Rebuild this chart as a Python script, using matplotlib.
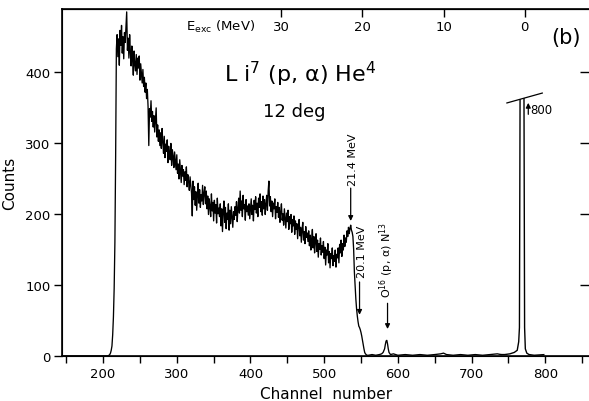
import numpy as np
import matplotlib
matplotlib.use("Agg")
import matplotlib.pyplot as plt
from matplotlib.patches import Polygon

# spectre Li7(p,alpha)He4 a 12 deg -- comptages par canal
ch_zero = [144, 170, 190, 200, 204, 206, 208, 209, 210, 211, 212, 213, 214, 215, 216, 217]
cnt_zero = [0, 0, 0, 0, 0, 0, 1, 2, 4, 8, 14, 30, 55, 95, 160, 280]

# partie continue, canal par canal (218 -> 537)
cnt_cont = [
    432, 452, 421, 446, 409, 458, 437, 465, 426, 449, 418, 455, 441, 462, 484, 430, 447, 419, 452, 428,
    408, 436, 417, 395, 429, 410, 401, 424, 396, 419, 405, 422, 388, 411, 397, 384, 403, 379, 392, 371,
    384, 362, 375, 351, 296, 348, 336, 359, 330, 344, 322, 338, 315, 331, 349, 308, 325, 302, 318, 296,
    314, 292, 320, 301, 285, 309, 279, 298, 288, 304, 272, 295, 283, 276, 299, 268, 290, 281, 265, 287,
    274, 262, 283, 257, 270, 249, 276, 260, 244, 268, 253, 262, 241, 259, 247, 266, 238, 255, 245, 233,
    252, 240, 229, 197, 246, 220, 238, 212, 231, 205, 226, 243, 215, 234, 209, 227, 218, 240, 213, 229,
    238, 214, 232, 207, 225, 199, 221, 210, 196, 228, 204, 216, 190, 219, 201, 213, 187, 222, 200, 208,
    196, 214, 183, 207, 175, 203, 218, 188, 209, 179, 201, 192, 214, 177, 205, 186, 210, 195, 181, 203,
    192, 210, 198, 217, 189, 208, 222, 201, 232, 205, 218, 196, 226, 207, 213, 191, 220, 203, 211, 198,
    214, 193, 208, 221, 199, 212, 190, 219, 206, 224, 201, 215, 196, 222, 209, 228, 203, 217, 198, 225,
    207, 220, 199, 214, 226, 205, 232, 246, 211, 224, 203, 218, 196, 215, 207, 221, 193, 210, 202, 216,
    195, 209, 188, 203, 214, 191, 200, 184, 207, 193, 180, 201, 189, 205, 178, 196, 186, 199, 174, 192,
    183, 197, 171, 190, 178, 186, 165, 184, 192, 169, 181, 160, 178, 188, 163, 175, 158, 182, 167, 173,
    161, 176, 155, 170, 149, 165, 178, 152, 168, 145, 161, 172, 147, 163, 139, 158, 150, 166, 142, 155,
    146, 161, 137, 153, 128, 149, 142, 158, 131, 147, 124, 144, 137, 152, 127, 141, 133, 149, 125, 143,
    138, 152, 131, 157, 145, 163, 140, 158, 149, 170, 154, 166, 160, 176, 168, 181, 172, 179, 184, 177,
]
ch_cont = list(range(218, 218 + len(cnt_cont)))

# front de descente apres 21.4 MeV
ch_edge = [538, 539, 540, 541, 542, 543, 544, 545, 546, 547, 548, 549, 550,
           551, 552, 553, 554, 555, 556, 557, 558]
cnt_edge = [174, 168, 150, 118, 98, 80, 66, 56, 48, 42, 40, 37, 33,
            28, 22, 16, 10, 5, 3, 2, 1]

# fond + pic O16(p,alpha)N13
ch_tail = [560, 565, 570, 575, 578, 580, 582, 583, 584, 585, 586, 587, 588, 590,
           594, 600, 610, 620, 630, 640, 650, 658, 662, 666, 675, 685, 695, 705,
           715, 725, 735, 740]
cnt_tail = [1, 2, 1, 2, 3, 5, 10, 16, 21, 22, 17, 10, 5, 2,
            3, 1, 2, 1, 2, 1, 2, 3, 4, 2, 1, 2, 1, 2,
            1, 2, 3, 2]

# pic elastique (sommet = 800)
ch_peak = [740, 745, 752, 758, 762, 764, 765, 766, 767, 768, 769, 770, 771,
           772, 773, 775, 778, 785, 800, 820, 840, 858]
cnt_peak = [2, 2, 3, 5, 8, 20, 40, 420, 760, 800, 790, 720, 430,
            40, 10, 4, 2, 1, 2, 1, 2, 1]

ch_main = ch_zero + ch_cont + ch_edge + ch_tail
cnt_main = cnt_zero + cnt_cont + cnt_edge + cnt_tail

# energie d'excitation en fonction du canal
ch_e0 = 772.0
ch_per_mev = 11.0
e_ticks = [0, 10, 20, 30]

peak_ch = 769
break_y = 362
break_slope = 0.29

fig = plt.figure(figsize=(5.89, 4.02), dpi=100)
ax = fig.add_axes([0.105, 0.112, 0.897, 0.863])

ax.plot(ch_main, cnt_main, color="black", lw=0.95)
pk, = ax.plot(ch_peak, cnt_peak, color="black", lw=1.0)

# on coupe le pic au niveau du trait de rupture
xa, xb = peak_ch - 30, peak_ch + 30
clip = Polygon([(xa, -20), (xb, -20),
                (xb, break_y + break_slope * (xb - peak_ch)),
                (xa, break_y + break_slope * (xa - peak_ch))],
               closed=True, transform=ax.transData, fill=False, visible=False)
ax.add_patch(clip)
pk.set_clip_path(clip)
xs = np.array([peak_ch - 21, peak_ch + 27])
ax.plot(xs, break_y + break_slope * (xs - peak_ch), color="black", lw=0.9)
ax.annotate("", xy=(peak_ch + 8, 360), xytext=(peak_ch + 8, 336),
            arrowprops=dict(arrowstyle="-|>", color="black", lw=0.9,
                            mutation_scale=7))
ax.text(peak_ch + 11, 346, "800", fontsize=8.5, va="center", ha="left")

ax.set_xlim(144, 861)
ax.set_ylim(0, 488)

xt = np.arange(150, 851, 50)
ax.set_xticks(xt)
ax.set_xticklabels([str(v) if v % 100 == 0 else "" for v in xt])
ax.set_yticks([0, 100, 200, 300, 400])
ax.tick_params(axis="x", direction="out", length=5, width=1, labelsize=9.5, pad=3)
ax.tick_params(axis="y", direction="out", length=6, width=1, labelsize=9.5, pad=2)
for s in ax.spines.values():
    s.set_linewidth(1.2)

# graduations de droite vers l'interieur
axr = ax.twinx()
axr.set_ylim(ax.get_ylim())
axr.set_yticks([100, 200, 300, 400])
axr.tick_params(axis="y", direction="in", length=7, width=1, labelright=False)

# axe superieur : E_exc (MeV)
sec = ax.secondary_xaxis("top", functions=(lambda c: (ch_e0 - c) / ch_per_mev,
                                           lambda e: ch_e0 - ch_per_mev * e))
sec.set_xticks(e_ticks)
sec.tick_params(direction="in", length=6, width=1, labelsize=9.5, pad=-17)
ax.text(0.30, 0.952, r"E$_{\rm exc}$ (MeV)", transform=ax.transAxes,
        fontsize=9.5, ha="center", va="center")

ax.set_xlabel("Channel  number", fontsize=11, labelpad=4)
ax.set_ylabel("Counts", fontsize=11, labelpad=6)

ax.text(467, 397, "L i$^{7}$ (p, α) He$^{4}$", fontsize=16,
        ha="center", va="center")
ax.text(460, 345, "12 deg", fontsize=13, ha="center", va="center")
ax.text(0.955, 0.92, "(b)", transform=ax.transAxes, fontsize=15,
        ha="center", va="center")

# fleches des etats
ax.annotate("", xy=(536, 186), xytext=(536, 240),
            arrowprops=dict(arrowstyle="-|>", color="black", lw=0.9, mutation_scale=7))
ax.text(539, 277, "21.4 MeV", rotation=90, fontsize=8, ha="center", va="center")
ax.annotate("", xy=(548, 54), xytext=(548, 108),
            arrowprops=dict(arrowstyle="-|>", color="black", lw=0.9, mutation_scale=7))
ax.text(552, 148, "20.1 MeV", rotation=90, fontsize=8, ha="center", va="center")
ax.annotate("", xy=(586, 34), xytext=(586, 78),
            arrowprops=dict(arrowstyle="-|>", color="black", lw=0.9, mutation_scale=7))
ax.text(585, 137, "O$^{16}$ (p, α) N$^{13}$", rotation=90, fontsize=8,
        ha="center", va="center")

fig.savefig("out.png", dpi=100)
